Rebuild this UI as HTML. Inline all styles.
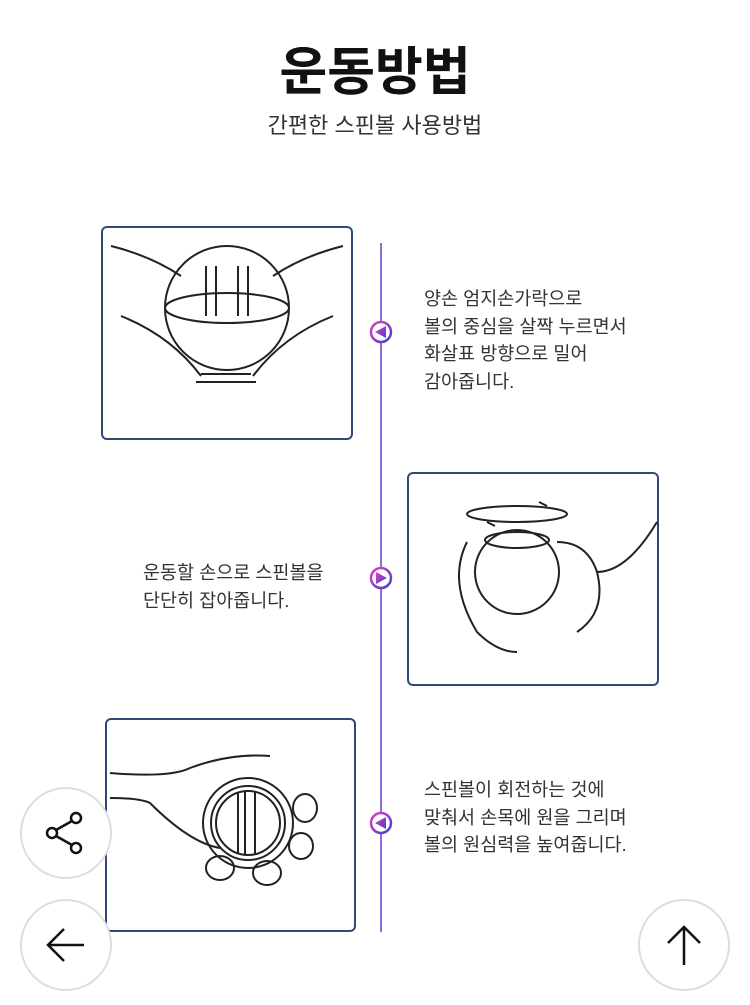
<!DOCTYPE html>
<html><head><meta charset="utf-8"><style>
body{margin:0;width:750px;height:1005px;background:#fff;position:relative;overflow:hidden;font-family:"Liberation Sans","Noto Sans CJK KR",sans-serif;color:#222}
.t{position:absolute;left:0;width:750px;text-align:center}
.box{position:absolute;border:2px solid #2f4a78;border-radius:6px;box-sizing:border-box;background:#fff}
.txt{position:absolute;font-size:18.5px;line-height:27.5px;color:#333;white-space:nowrap}
.btn{position:absolute;width:92px;height:92px;border-radius:50%;border:2px solid #ddd;background:#fff;box-sizing:border-box}
</style></head><body>
<div class="t" style="top:30px;font-size:52px;font-weight:bold;color:#111">운동방법</div>
<div class="t" style="top:108px;font-size:22px;color:#333">간편한 스핀볼 사용방법</div>

<div style="position:absolute;left:380px;top:243px;width:2px;height:689px;background:#8a6cdc"></div>

<svg style="position:absolute;left:0;top:0" width="750" height="1005">
<defs><linearGradient id="g" x1="0" y1="0" x2="1" y2="1"><stop offset="0" stop-color="#e040c0"/><stop offset="1" stop-color="#4040d0"/></linearGradient></defs>
<g fill="#fff" stroke="url(#g)" stroke-width="2.5">
<circle cx="381" cy="332" r="10"/><circle cx="381" cy="578" r="10"/><circle cx="381" cy="823" r="10"/></g>
<g fill="url(#g)">
<polygon points="375,332 386,326 386,338"/><polygon points="387,578 376,572 376,584"/><polygon points="375,823 386,817 386,829"/></g>
</svg>

<div class="box" style="left:101px;top:226px;width:252px;height:214px"></div>
<svg style="position:absolute;left:101px;top:226px" width="252" height="214" fill="none" stroke="#222" stroke-width="2">
<circle cx="126" cy="82" r="62"/><ellipse cx="126" cy="82" rx="62" ry="15"/>
<path d="M105 40v50M115 40v50M137 40v50M147 40v50"/>
<path d="M10 20q40 10 70 30M242 20q-40 10-70 30M20 90q50 20 80 60M232 90q-50 20-80 60"/>
<path d="M100 148h50M95 156h60"/>
</svg>

<div class="txt" style="left:424px;top:285px">양손 엄지손가락으로<br>볼의 중심을 살짝 누르면서<br>화살표 방향으로 밀어<br>감아줍니다.</div>

<div class="box" style="left:407px;top:472px;width:252px;height:214px"></div>
<svg style="position:absolute;left:407px;top:472px" width="252" height="214" fill="none" stroke="#222" stroke-width="2">
<ellipse cx="110" cy="42" rx="50" ry="8"/><path d="M140 34l-8-4M80 50l8 4"/>
<circle cx="110" cy="100" r="42"/><ellipse cx="110" cy="68" rx="32" ry="8"/>
<path d="M60 70q-20 40 10 90q20 20 40 20M150 70q30 0 40 30q30 0 60-50M190 100q10 40-20 60"/>
</svg>

<div class="txt" style="left:143px;top:559px">운동할 손으로 스핀볼을<br>단단히 잡아줍니다.</div>

<div class="box" style="left:105px;top:718px;width:251px;height:214px"></div>
<svg style="position:absolute;left:105px;top:718px" width="251" height="214" fill="none" stroke="#222" stroke-width="2">
<circle cx="143" cy="105" r="45"/><circle cx="143" cy="105" r="37"/><circle cx="143" cy="105" r="32"/>
<path d="M133 75v60M140 73v64M150 73v64"/>
<path d="M5 55q60 5 80 -5q40-15 80-12M5 80q30 0 40 5q40 40 70 45"/>
<ellipse cx="115" cy="150" rx="14" ry="12"/><ellipse cx="162" cy="155" rx="14" ry="12"/><ellipse cx="200" cy="90" rx="12" ry="14"/><ellipse cx="196" cy="128" rx="12" ry="13"/>
</svg>

<div class="txt" style="left:424px;top:776px">스핀볼이 회전하는 것에<br>맞춰서 손목에 원을 그리며<br>볼의 원심력을 높여줍니다.</div>

<div class="btn" style="left:20px;top:787px"></div>
<svg style="position:absolute;left:20px;top:787px" width="92" height="92" fill="none" stroke="#111" stroke-width="2.5">
<circle cx="56" cy="31" r="5"/><circle cx="32" cy="46" r="5"/><circle cx="56" cy="61" r="5"/><path d="M36 43l16-9M36 49l16 9"/></svg>
<div class="btn" style="left:20px;top:899px"></div>
<svg style="position:absolute;left:20px;top:899px" width="92" height="92" fill="none" stroke="#111" stroke-width="2.5">
<path d="M64 46H28M44 30L28 46L44 62"/></svg>
<div class="btn" style="left:638px;top:899px"></div>
<svg style="position:absolute;left:638px;top:899px" width="92" height="92" fill="none" stroke="#111" stroke-width="2.5">
<path d="M46 66V28M30 44L46 28L62 44"/></svg>
</body></html>
